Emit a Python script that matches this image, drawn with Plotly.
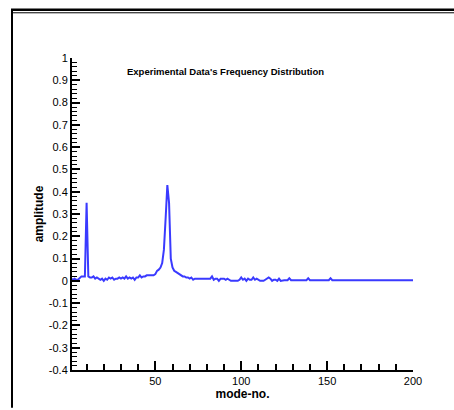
import plotly.graph_objects as go

mode_no = list(range(1, 201))
amp_1_40 = [0.010, 0.005, 0.010, 0.005, 0.005, 0.015, 0.020, 0.020, 0.020, 0.350,
            0.020, 0.015, 0.015, 0.020, 0.010, 0.015, 0.010, 0.005, 0.010, 0.000,
            0.010, 0.005, 0.015, 0.010, 0.015, 0.005, 0.010, 0.010, 0.015, 0.010,
            0.015, 0.010, 0.020, 0.010, 0.015, 0.010, 0.015, 0.005, 0.015, 0.015]
amp_41_80 = [0.025, 0.015, 0.020, 0.020, 0.025, 0.025, 0.025, 0.025, 0.025, 0.030,
             0.045, 0.050, 0.060, 0.080, 0.140, 0.280, 0.430, 0.350, 0.100, 0.060,
             0.045, 0.040, 0.035, 0.030, 0.025, 0.020, 0.020, 0.015, 0.015, 0.010,
             0.015, 0.005, 0.010, 0.010, 0.010, 0.010, 0.010, 0.010, 0.010, 0.010]
amp_81_120 = [0.010, 0.010, 0.020, 0.005, 0.010, 0.010, 0.000, 0.010, 0.010, 0.010,
              0.005, 0.010, 0.005, 0.000, 0.000, 0.000, 0.000, 0.000, 0.005, 0.015,
              0.005, 0.010, 0.000, 0.010, 0.005, 0.005, 0.015, 0.005, 0.010, 0.005,
              0.000, 0.000, 0.000, 0.005, 0.010, 0.015, 0.010, 0.000, 0.005, 0.005]
amp_121_160 = [0.000, 0.010, 0.000, 0.003, 0.003, 0.003, 0.003, 0.012, 0.003, 0.003,
               0.003, 0.003, 0.003, 0.003, 0.003, 0.003, 0.003, 0.003, 0.012, 0.003,
               0.003, 0.003, 0.003, 0.003, 0.003, 0.003, 0.003, 0.003, 0.003, 0.003,
               0.003, 0.012, 0.003, 0.003, 0.003, 0.003, 0.003, 0.003, 0.003, 0.003]
amp_161_200 = [0.003, 0.003, 0.003, 0.003, 0.003, 0.003, 0.003, 0.003, 0.003, 0.003,
               0.003, 0.003, 0.003, 0.003, 0.003, 0.003, 0.003, 0.003, 0.003, 0.003,
               0.003, 0.003, 0.003, 0.003, 0.003, 0.003, 0.003, 0.003, 0.003, 0.003,
               0.003, 0.003, 0.003, 0.003, 0.003, 0.003, 0.003, 0.003, 0.003, 0.003]
amplitude = amp_1_40 + amp_41_80 + amp_81_120 + amp_121_160 + amp_161_200

x_tickvals = [50, 100, 150, 200]
x_ticktext = ["50", "100", "150", "200"]
y_tickvals = [-0.4, -0.3, -0.2, -0.1, 0, 0.1, 0.2, 0.3, 0.4, 0.5, 0.6, 0.7, 0.8, 0.9, 1]
y_ticktext = ["-0.4", "-0.3", "-0.2", "-0.1", "0", "0.1", "0.2", "0.3", "0.4", "0.5",
              "0.6", "0.7", "0.8", "0.9", "1"]

W, H = 454, 410
L, R, T, B = 72, 41, 58, 38
pw, ph = W - L - R, H - T - B

def px(x):
    return (x - L) / pw

def py(y):
    return (H - B - y) / ph

fig = go.Figure()
fig.add_trace(go.Scatter(x=mode_no, y=amplitude, mode="lines",
                         line=dict(color="#3a3aff", width=2), showlegend=False))

axfont = dict(family="Liberation Sans, Arial, sans-serif", size=11, color="black")
fig.update_xaxes(range=[1.5, 200], tickvals=x_tickvals, ticktext=x_ticktext,
                 ticks="inside", ticklen=9, tickwidth=1.5, tickcolor="black",
                 minor=dict(ticks="inside", dtick=10, tick0=0, ticklen=6, tickwidth=1.5, tickcolor="black"),
                 showline=True, linecolor="black", linewidth=2, showgrid=False, zeroline=False,
                 tickfont=axfont,
                 title=dict(text="<b>mode-no.</b>", font=dict(family="Liberation Sans, Arial, sans-serif", size=12, color="black"), standoff=2))
fig.update_yaxes(range=[-0.4, 1], tickvals=y_tickvals, ticktext=y_ticktext,
                 ticks="inside", ticklen=8, tickwidth=1.5, tickcolor="black",
                 minor=dict(ticks="inside", dtick=0.02, tick0=0, ticklen=5, tickwidth=1, tickcolor="black"),
                 showline=True, linecolor="black", linewidth=2, showgrid=False, zeroline=False,
                 tickfont=axfont,
                 title=dict(text="<b>amplitude</b>", font=dict(family="Liberation Sans, Arial, sans-serif", size=12, color="black"), standoff=3))

shapes = [
    dict(type="line", xref="paper", yref="paper", x0=px(11), x1=px(454), y0=py(9.5), y1=py(9.5),
         line=dict(color="black", width=2.5)),
    dict(type="line", xref="paper", yref="paper", x0=px(11), x1=px(454), y0=py(12.5), y1=py(12.5),
         line=dict(color="black", width=1)),
    dict(type="line", xref="paper", yref="paper", x0=px(12), x1=px(12), y0=py(9), y1=py(410),
         line=dict(color="black", width=2)),
]
fig.update_layout(
    width=W, height=H, margin=dict(l=L, r=R, t=T, b=B),
    paper_bgcolor="white", plot_bgcolor="white",
    shapes=shapes,
    annotations=[dict(text="<b>Experimental Data's Frequency Distribution</b>",
                      xref="paper", yref="paper", x=px(225), y=py(72), showarrow=False,
                      xanchor="center", yanchor="middle",
                      font=dict(family="Liberation Sans, Arial, sans-serif", size=9.5, color="black"))],
)
fig.write_html("out.html")
